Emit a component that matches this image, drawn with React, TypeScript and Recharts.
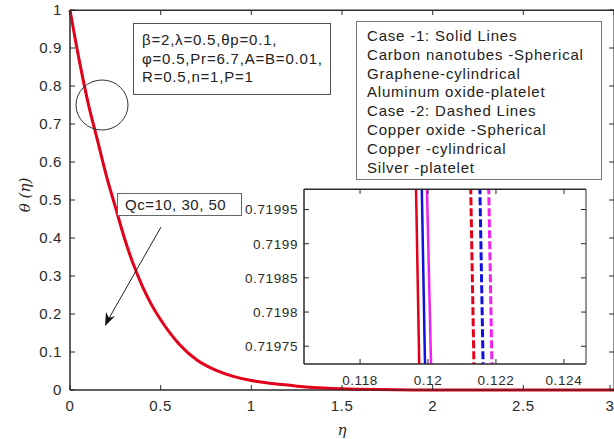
import React from 'react'
import { LineChart, Line, XAxis, YAxis, CartesianGrid, ReferenceArea } from 'recharts'

// main profile theta(eta), all cases overlap at this scale
const etaValues = [0, 0.05, 0.1, 0.15, 0.2, 0.25, 0.3, 0.35, 0.4, 0.45, 0.5, 0.6, 0.7, 0.8, 0.9, 1.0, 1.1, 1.2, 1.3, 1.4, 1.5, 1.7, 2.0, 2.5, 3.0]
const thetaValues = [1, 0.87, 0.755, 0.66, 0.565, 0.482, 0.4, 0.33, 0.272, 0.224, 0.185, 0.122, 0.079, 0.053, 0.036, 0.025, 0.018, 0.013, 0.008, 0.005, 0.003, 0.001, 0, 0, 0]

const mainXTicks = [0, 0.5, 1, 1.5, 2, 2.5, 3]
const mainYTicks = [0, 0.1, 0.2, 0.3, 0.4, 0.5, 0.6, 0.7, 0.8, 0.9, 1]

// zoomed inset: each line goes from top to bottom of the window
const insetTheta = [0.72, 0.7197]
const solidRedEta = [0.11964, 0.11975]
const solidBlueEta = [0.11981, 0.11992]
const solidMagentaEta = [0.11996, 0.1201]
const dashedRedEta = [0.12125, 0.12136]
const dashedBlueEta = [0.12152, 0.12163]
const dashedMagentaEta = [0.12178, 0.12189]

const insetXTicks = [0.118, 0.12, 0.122, 0.124]
const insetYTicks = [0.71975, 0.7198, 0.71985, 0.7199, 0.71995]

const paramLines = ['β=2,λ=0.5,θp=0.1,', 'φ=0.5,Pr=6.7,A=B=0.01,', 'R=0.5,n=1,P=1']
const legendLines = [
  'Case -1: Solid Lines',
  'Carbon nanotubes -Spherical',
  'Graphene-cylindrical',
  'Aluminum oxide-platelet',
  'Case -2: Dashed Lines',
  'Copper oxide -Spherical',
  'Copper -cylindrical',
  'Silver -platelet',
]

const mainData = etaValues.map((eta, i) => ({ eta, theta: thetaValues[i] }))
const toLine = (etas: number[]) => etas.map((eta, i) => ({ eta, theta: insetTheta[i] }))

const MAIN_X = [0, 3]
const MAIN_Y = [0, 1]
const INSET_X = [0.11635, 0.12465]
const INSET_Y = [0.719724, 0.71998]

// plot boxes in page pixels (used for the inward tick marks on top/right)
const MAIN_BOX = { left: 70, top: 10, right: 614, bottom: 390 }
const INSET_BOX = { left: 304, top: 189, right: 586, bottom: 364 }

const FONT = '"Liberation Sans", Arial, sans-serif'
const INK = '#2a2a2a'

function makeTick(side: string, margin: number, fontSize: number) {
  return (props: any) => {
    const { x, y, payload } = props
    const len = 5
    const v = String(payload.value)
    if (side === 'bottom') {
      const ay = y - margin
      return (
        <g>
          <line x1={x} y1={ay} x2={x} y2={ay - len} stroke={INK} />
          <text x={x} y={y + fontSize * 0.72} textAnchor="middle" fontSize={fontSize} letterSpacing={0.6} fill={INK} fontFamily={FONT}>{v}</text>
        </g>
      )
    }
    const ax = x + margin
    return (
      <g>
        <line x1={ax} y1={y} x2={ax + len} y2={y} stroke={INK} />
        <text x={x} y={y + fontSize * 0.36} textAnchor="end" fontSize={fontSize} letterSpacing={0.6} fill={INK} fontFamily={FONT}>{v}</text>
      </g>
    )
  }
}

// top edge plus inward tick marks along the top and right edges of a plot box
function EdgeTicks({ box, xd, yd, xt, yt }: { box: typeof MAIN_BOX, xd: number[], yd: number[], xt: number[], yt: number[] }) {
  const sx = (v: number) => box.left + (v - xd[0]) / (xd[1] - xd[0]) * (box.right - box.left)
  const sy = (v: number) => box.bottom - (v - yd[0]) / (yd[1] - yd[0]) * (box.bottom - box.top)
  return (
    <g stroke={INK} strokeWidth={1}>
      <line x1={box.left} y1={box.top + 0.5} x2={box.right} y2={box.top + 0.5} />
      {xt.map(t => <line key={'x' + t} x1={sx(t)} y1={box.top} x2={sx(t)} y2={box.top + 5} />)}
      {yt.map(t => <line key={'y' + t} x1={box.right} y1={sy(t)} x2={box.right - 5} y2={sy(t)} />)}
    </g>
  )
}

const boxText = { fontFamily: FONT, fontSize: 15, letterSpacing: '0.8px', color: '#222', boxSizing: 'border-box' as const, whiteSpace: 'nowrap' as const }

export default function App() {
  return (
    <div style={{ position: 'absolute', left: 0, top: 0, width: 614, height: 439, background: '#fff', overflow: 'hidden' }}>
      <LineChart width={614} height={439} data={mainData} margin={{ top: 10, right: 0, bottom: 0, left: 0 }}>
        <XAxis xAxisId="b" dataKey="eta" type="number" domain={MAIN_X} ticks={mainXTicks} height={49}
          stroke={INK} tickSize={0} tickMargin={10} tickLine={false} tick={makeTick('bottom', 10, 15)} />
        <YAxis yAxisId="l" type="number" domain={MAIN_Y} ticks={mainYTicks} width={70}
          stroke={INK} tickSize={0} tickMargin={8} tickLine={false} tick={makeTick('left', 8, 15)} />
        <ReferenceArea xAxisId="b" yAxisId="l" x1={MAIN_X[0]} x2={MAIN_X[1]} y1={MAIN_Y[0]} y2={MAIN_Y[1]} fill="none" stroke={INK} ifOverflow="visible" />
        <Line xAxisId="b" yAxisId="l" type="monotone" dataKey="theta" stroke="#e3001b" strokeWidth={3} dot={false} isAnimationActive={false} />
      </LineChart>

      <div style={{ position: 'absolute', left: 240, top: 180 }}>
        <LineChart width={350} height={210} margin={{ top: 9, right: 4, bottom: 0, left: 0 }}>
          <CartesianGrid xAxisId="b" yAxisId="l" fill="#fff" stroke="none" />
          <XAxis xAxisId="b" dataKey="eta" type="number" domain={INSET_X} ticks={insetXTicks} height={26}
            allowDataOverflow stroke={INK} tickSize={0} tickMargin={11} tickLine={false} tick={makeTick('bottom', 11, 13.5)} />
          <YAxis yAxisId="l" dataKey="theta" type="number" domain={INSET_Y} ticks={insetYTicks} width={64}
            allowDataOverflow stroke={INK} tickSize={0} tickMargin={6} tickLine={false} tick={makeTick('left', 6, 13.5)} />
          <ReferenceArea xAxisId="b" yAxisId="l" x1={INSET_X[0]} x2={INSET_X[1]} y1={INSET_Y[0]} y2={INSET_Y[1]} fill="none" stroke={INK} ifOverflow="visible" />
          <Line xAxisId="b" yAxisId="l" data={toLine(solidRedEta)} dataKey="theta" stroke="#e3001b" strokeWidth={2.5} dot={false} isAnimationActive={false} />
          <Line xAxisId="b" yAxisId="l" data={toLine(solidBlueEta)} dataKey="theta" stroke="#1010e0" strokeWidth={2.5} dot={false} isAnimationActive={false} />
          <Line xAxisId="b" yAxisId="l" data={toLine(solidMagentaEta)} dataKey="theta" stroke="#f020f0" strokeWidth={2.5} dot={false} isAnimationActive={false} />
          <Line xAxisId="b" yAxisId="l" data={toLine(dashedRedEta)} dataKey="theta" stroke="#e3001b" strokeWidth={3} strokeDasharray="8 3" dot={false} isAnimationActive={false} />
          <Line xAxisId="b" yAxisId="l" data={toLine(dashedBlueEta)} dataKey="theta" stroke="#1010e0" strokeWidth={3} strokeDasharray="8 3" dot={false} isAnimationActive={false} />
          <Line xAxisId="b" yAxisId="l" data={toLine(dashedMagentaEta)} dataKey="theta" stroke="#f020f0" strokeWidth={3} strokeDasharray="8 3" dot={false} isAnimationActive={false} />
        </LineChart>
      </div>

      {/* edge ticks, circle and Qc arrow */}
      <svg width={614} height={439} style={{ position: 'absolute', left: 0, top: 0, pointerEvents: 'none' }}>
        <EdgeTicks box={MAIN_BOX} xd={MAIN_X} yd={MAIN_Y} xt={mainXTicks} yt={mainYTicks} />
        <EdgeTicks box={INSET_BOX} xd={INSET_X} yd={INSET_Y} xt={insetXTicks} yt={insetYTicks} />
        <ellipse cx={102} cy={105} rx={26} ry={25} fill="none" stroke="#333" strokeWidth={1} />
        <line x1={161} y1={227} x2={108} y2={320} stroke="#222" strokeWidth={1} />
        <polygon points="105,326 106,312 109,318 115,316" fill="#111" />
        <text x={30} y={195} transform="rotate(-90 30 195)" textAnchor="middle" fontFamily='"DejaVu Serif", serif' fontStyle="italic" fontSize={15} fill={INK}>θ (η)</text>
        <text x={342} y={435} textAnchor="middle" fontFamily='"DejaVu Serif", serif' fontStyle="italic" fontSize={15} fill={INK}>η</text>
      </svg>

      <div style={{ ...boxText, position: 'absolute', left: 133, top: 23, width: 198, height: 72, border: '1px solid #555', background: '#fff',
        lineHeight: '18.5px', padding: '7px 0 0 8px' }}>
        {paramLines.map(t => <div key={t}>{t}</div>)}
      </div>

      <div style={{ ...boxText, position: 'absolute', left: 356, top: 21, width: 246, height: 159, border: '1px solid #777', background: '#fff',
        lineHeight: '18.8px', padding: '5px 0 0 10px' }}>
        {legendLines.map(t => <div key={t}>{t}</div>)}
      </div>

      <div style={{ ...boxText, position: 'absolute', left: 117, top: 193, width: 125, height: 23, border: '1px solid #666', background: '#fff',
        lineHeight: '21px', paddingLeft: 7, letterSpacing: '0.5px' }}>
        Qc=10, 30, 50
      </div>
    </div>
  )
}
